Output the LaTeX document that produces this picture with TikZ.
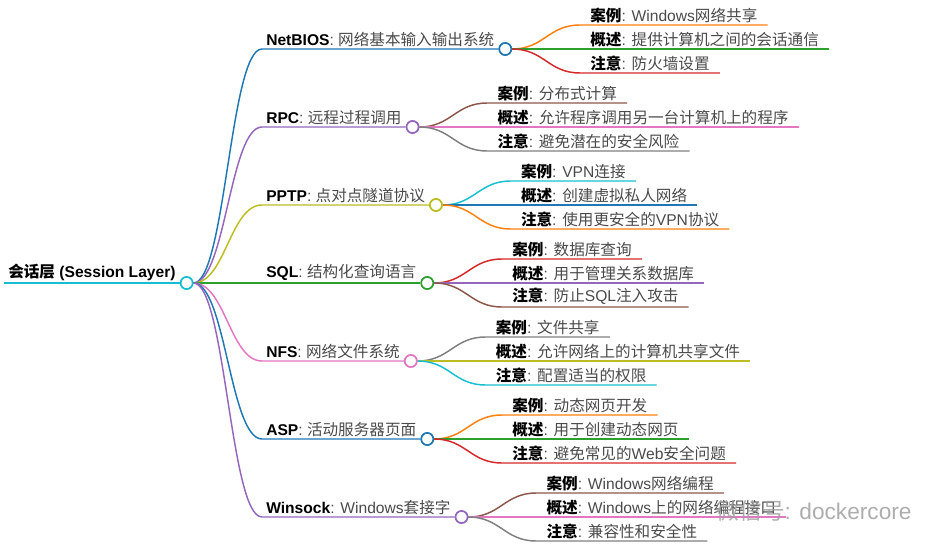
\documentclass[tikz,border=0pt]{standalone}
\usepackage{fontspec}
\setmainfont{Liberation Sans}
\newfontfamily\cjk{Noto Sans CJK SC}
\usetikzlibrary{calc}
\usepackage{xcolor}
\definecolor{tblue}{HTML}{1F77B4}
\definecolor{torange}{HTML}{FF7F0E}
\definecolor{tgreen}{HTML}{2CA02C}
\definecolor{tred}{HTML}{D62728}
\definecolor{tpurple}{HTML}{9467BD}
\definecolor{tbrown}{HTML}{8C564B}
\definecolor{tpink}{HTML}{E377C2}
\definecolor{tgray}{HTML}{7F7F7F}
\definecolor{tolive}{HTML}{BCBD22}
\definecolor{tcyan}{HTML}{17BECF}
\definecolor{txt}{HTML}{4A4A4A}
% switch to the CJK family for ideographs
\XeTeXinterchartokenstate=1
\count255="4E00
\loop\XeTeXcharclass\count255=1 \advance\count255 by 1 \ifnum\count255<"A000 \repeat
\XeTeXinterchartoks 0 1 = {\cjk}
\XeTeXinterchartoks 4095 1 = {\cjk}
\XeTeXinterchartoks 1 0 = {\rmfamily}
\XeTeXinterchartoks 1 4095 = {\rmfamily}
\newcommand\kv[2]{{\bfseries #1}\textcolor{txt}{: #2}}
\tikzset{
  textnode/.style={anchor=south west, inner xsep=3pt, inner ysep=1.5pt, font=\fontsize{11.7}{14}\selectfont},
  topic/.style={textnode},
  leaf/.style={textnode, inner xsep=7.5pt},
  dot/.style={circle, draw=#1, fill=white, line width=1.2pt, minimum size=9pt, inner sep=0pt, anchor=west},
  link/.style={draw=#1, line width=1.1pt}
}
\begin{document}
\begin{tikzpicture}[x=0.75pt, y=-0.75pt]
  \useasboundingbox (0,0) rectangle (944,552);
  % root
  \node[topic] (rootT) at (4,283) {{\bfseries 会话层 (Session Layer)}};
  \node[dot=tcyan] (root) at (rootT.south east) {};
  % topics
  \node[topic] (netbiosT) at (262,49) {\kv{NetBIOS}{网络基本输入输出系统}};
  \node[topic] (rpcT) at (262,127) {\kv{RPC}{远程过程调用}};
  \node[topic] (pptpT) at (262,205) {\kv{PPTP}{点对点隧道协议}};
  \node[topic] (sqlT) at (262,283) {\kv{SQL}{结构化查询语言}};
  \node[topic] (nfsT) at (262,361) {\kv{NFS}{网络文件系统}};
  \node[topic] (aspT) at (262,439) {\kv{ASP}{活动服务器页面}};
  \node[topic] (winsockT) at (262,517) {\kv{Winsock}{Windows套接字}};
  \node[dot=tblue] (netbios) at (netbiosT.south east) {};
  \node[dot=tpurple] (rpc) at (rpcT.south east) {};
  \node[dot=tolive] (pptp) at (pptpT.south east) {};
  \node[dot=tgreen] (sql) at (sqlT.south east) {};
  \node[dot=tpink] (nfs) at (nfsT.south east) {};
  \node[dot=tblue] (asp) at (aspT.south east) {};
  \node[dot=tpurple] (winsock) at (winsockT.south east) {};
  % leaves
  \node[leaf] (netbios-a) at ($(netbios.east)+(68,-24)$) {\kv{案例}{Windows网络共享}};
  \node[leaf] (netbios-b) at ($(netbios.east)+(68,0)$) {\kv{概述}{提供计算机之间的会话通信}};
  \node[leaf] (netbios-c) at ($(netbios.east)+(68,24)$) {\kv{注意}{防火墙设置}};
  \node[leaf] (rpc-a) at ($(rpc.east)+(68,-24)$) {\kv{案例}{分布式计算}};
  \node[leaf] (rpc-b) at ($(rpc.east)+(68,0)$) {\kv{概述}{允许程序调用另一台计算机上的程序}};
  \node[leaf] (rpc-c) at ($(rpc.east)+(68,24)$) {\kv{注意}{避免潜在的安全风险}};
  \node[leaf] (pptp-a) at ($(pptp.east)+(68,-24)$) {\kv{案例}{VPN连接}};
  \node[leaf] (pptp-b) at ($(pptp.east)+(68,0)$) {\kv{概述}{创建虚拟私人网络}};
  \node[leaf] (pptp-c) at ($(pptp.east)+(68,24)$) {\kv{注意}{使用更安全的VPN协议}};
  \node[leaf] (sql-a) at ($(sql.east)+(68,-24)$) {\kv{案例}{数据库查询}};
  \node[leaf] (sql-b) at ($(sql.east)+(68,0)$) {\kv{概述}{用于管理关系数据库}};
  \node[leaf] (sql-c) at ($(sql.east)+(68,24)$) {\kv{注意}{防止SQL注入攻击}};
  \node[leaf] (nfs-a) at ($(nfs.east)+(68,-24)$) {\kv{案例}{文件共享}};
  \node[leaf] (nfs-b) at ($(nfs.east)+(68,0)$) {\kv{概述}{允许网络上的计算机共享文件}};
  \node[leaf] (nfs-c) at ($(nfs.east)+(68,24)$) {\kv{注意}{配置适当的权限}};
  \node[leaf] (asp-a) at ($(asp.east)+(68,-24)$) {\kv{案例}{动态网页开发}};
  \node[leaf] (asp-b) at ($(asp.east)+(68,0)$) {\kv{概述}{用于创建动态网页}};
  \node[leaf] (asp-c) at ($(asp.east)+(68,24)$) {\kv{注意}{避免常见的Web安全问题}};
  \node[leaf] (winsock-a) at ($(winsock.east)+(68,-24)$) {\kv{案例}{Windows网络编程}};
  \node[leaf] (winsock-b) at ($(winsock.east)+(68,0)$) {\kv{概述}{Windows上的网络编程接口}};
  \node[leaf] (winsock-c) at ($(winsock.east)+(68,24)$) {\kv{注意}{兼容性和安全性}};
  % connectors
  \draw[link=tcyan] (rootT.south west) -- (root.west);
  \foreach \t/\c in {netbios/tblue, rpc/tpurple, pptp/tolive, sql/tgreen, nfs/tpink, asp/tblue, winsock/tpurple}
    \draw[link=\c] (root.east) .. controls +(32,0) and +(-32,0) .. (\t T.south west) -- (\t.west);
  \foreach \t/\a/\b/\c in {netbios/torange/tgreen/tred, rpc/tbrown/tpink/tgray, pptp/tcyan/tblue/torange,
      sql/tred/tpurple/tbrown, nfs/tgray/tolive/tcyan, asp/torange/tgreen/tred, winsock/tbrown/tpink/tgray} {
    \draw[link=\a] (\t.east) .. controls +(32,0) and +(-32,0) .. (\t-a.south west) -- (\t-a.south east);
    \draw[link=\b] (\t.east) -- (\t-b.south west) -- (\t-b.south east);
    \draw[link=\c] (\t.east) .. controls +(32,0) and +(-32,0) .. (\t-c.south west) -- (\t-c.south east);
  }
  % redraw the dots over the lines
  \foreach \t/\c in {root/tcyan, netbios/tblue, rpc/tpurple, pptp/tolive, sql/tgreen, nfs/tpink, asp/tblue, winsock/tpurple}
    \node[dot=\c, anchor=center] at (\t) {};
  \node[text=gray!75, opacity=0.85, font=\fontsize{17}{19}\selectfont, anchor=west] (mark) at (712,511) {微信号: dockercore};
\end{tikzpicture}
\end{document}
